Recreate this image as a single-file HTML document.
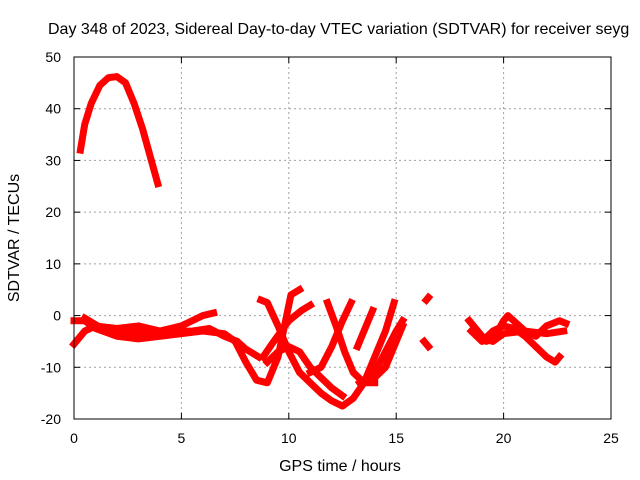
<!DOCTYPE html>
<html><head><meta charset="utf-8"><style>
body{margin:0;background:#fff}
svg{display:block;font-family:"Liberation Sans",sans-serif;font-size:14px}
</style></head><body>
<svg id="chart" width="640" height="480" xmlns="http://www.w3.org/2000/svg">
<text x="48" y="34" style="font-size:16px">Day 348 of 2023, Sidereal Day-to-day VTEC variation (SDTVAR) for receiver seyg</text>
<g id="grid"></g>
<g id="ticks"></g>
<g id="series"></g>
<rect x="74" y="57" width="537" height="362" fill="none" stroke="#000" stroke-width="1"/>
<text x="340" y="471" text-anchor="middle" style="font-size:16px">GPS time / hours</text>
<text transform="translate(19,238) rotate(-90)" text-anchor="middle" style="font-size:16px">SDTVAR / TECUs</text>
</svg>
<script>
const xTicks=[0,5,10,15,20,25];
const yTicks=[-20,-10,0,10,20,30,40,50];
const trackA=[[0.3,32],[0.5,37],[0.8,41],[1.2,44.5],[1.6,46],[2.0,46.2],[2.4,45],[2.8,41],[3.2,36],[3.6,30],[3.9,25.5]];
const trackB=[[0,-5.5],[0.5,-3],[1,-2],[2,-2.5],[3,-2],[4,-3],[5,-2],[5.5,-1],[6,0],[6.5,0.5]];
const trackC=[[0,-1],[0.5,-1],[1,-2.5],[2,-4],[3,-4.5],[4,-4],[5,-3.5],[6,-3],[7,-3.5],[7.5,-5],[8,-9],[8.5,-12.5],[9,-13],[9.5,-8],[9.8,-2],[10.1,4],[10.5,5]];
const trackC2=[[0.5,-0.5],[1.5,-3],[2.5,-3],[3.5,-3.5],[4.5,-3],[5.5,-3],[6.3,-2.5],[7,-4],[7.6,-5],[8,-6.5],[8.6,-8]];
const trackD=[[8.8,-8],[9.3,-5],[10,-1],[10.6,1],[11,2]];
const trackE=[[8.7,3],[9,2.5],[9.5,-2],[10,-7],[10.5,-11],[11,-13],[11.5,-15],[12,-16.5],[12.5,-17.5],[13,-16],[13.5,-13],[14,-8],[14.5,-3],[14.9,2.5]];
const trackF=[[9,-9],[9.5,-7],[10,-6],[10.5,-7],[11,-10],[11.5,-12],[12,-14],[12.5,-15.5]];
const trackG=[[11.8,2.5],[12.2,-2],[12.6,-7],[13,-11],[13.5,-13],[14,-13]];
const trackH=[[11,-11],[11.5,-10],[12,-6],[12.5,-1],[12.9,2.5]];
const trackI=[[13.3,-13],[14,-11],[14.5,-7],[15,-3],[15.3,-1]];
const trackJ=[[13.2,-6],[13.5,-3],[13.9,1]];
const trackK=[[14,-12],[14.5,-10],[15,-5],[15.3,-2]];
const trackL=[[16.4,3],[16.5,3.5]];
const trackM=[[16.3,-5],[16.5,-6]];
const trackN=[[18.4,-1],[18.8,-3],[19.2,-5],[19.6,-4],[20,-1],[20.2,0],[20.6,-1.5],[21,-3],[21.5,-4],[22,-2],[22.6,-1],[22.9,-1.5]];
const trackO=[[18.5,-3],[19,-5],[19.5,-3],[20,-2],[20.5,-2.5],[21,-4],[21.5,-6],[22,-8],[22.4,-9],[22.6,-8]];
const trackP=[[18.8,-4],[19.5,-5],[20,-3.5],[21,-3],[22,-3.5],[22.8,-3]];
const tracks=[trackA,trackB,trackC,trackC2,trackD,trackE,trackF,trackG,trackH,trackI,trackJ,trackK,trackL,trackM,trackN,trackO,trackP];

const NS="http://www.w3.org/2000/svg";
const X=h=>74+h*(537/25);
const Y=v=>419-(v+20)*(362/70);
const grid=document.getElementById('grid'),ticks=document.getElementById('ticks'),series=document.getElementById('series');
function mk(tag,attrs,parent){const e=document.createElementNS(NS,tag);for(const k in attrs)e.setAttribute(k,attrs[k]);parent.appendChild(e);return e;}
xTicks.forEach(t=>{
  if(t>0&&t<25){const g=mk('line',{x1:X(t),x2:X(t),y1:57,y2:419,stroke:'#a0a0a0','stroke-dasharray':'2,3'},grid);
  
  }
  mk('line',{x1:X(t),x2:X(t),y1:419,y2:413,stroke:'#000'},grid);
  mk('line',{x1:X(t),x2:X(t),y1:57,y2:63,stroke:'#000'},grid);
  const l=mk('text',{x:X(t),y:443,'text-anchor':'middle'},ticks);l.textContent=t;
  
  
});
yTicks.forEach(t=>{
  if(t>-20&&t<50){const g=mk('line',{x1:74,x2:611,y1:Y(t),y2:Y(t),stroke:'#a0a0a0','stroke-dasharray':'2,3'},grid);
  
  }
  mk('line',{x1:74,x2:80,y1:Y(t),y2:Y(t),stroke:'#000'},grid);
  mk('line',{x1:605,x2:611,y1:Y(t),y2:Y(t),stroke:'#000'},grid);
  const l=mk('text',{x:61,y:Y(t)+5,'text-anchor':'end'},ticks);l.textContent=t;
  
  
});
tracks.forEach(tr=>{
  const p=mk('polyline',{points:tr.map(d=>X(d[0])+','+Y(d[1])).join(' '),fill:'none',stroke:'#ff0000','stroke-width':7,'stroke-linejoin':'round','stroke-linecap':'square'},series);
  
  
});
</script>
</body></html>
